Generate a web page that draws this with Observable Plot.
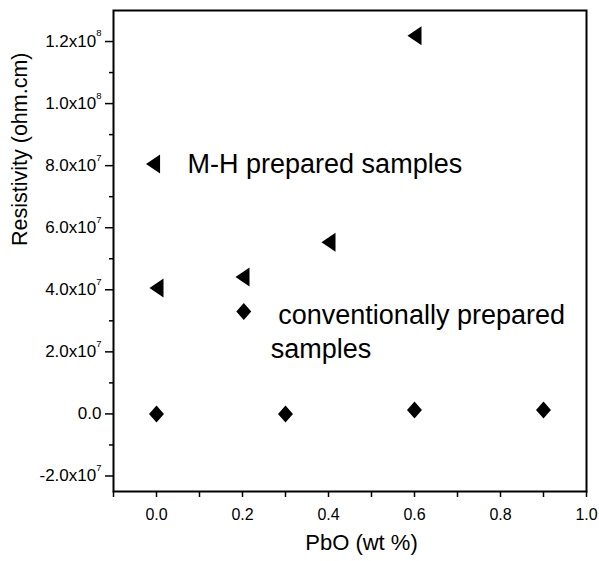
<!DOCTYPE html>
<html><head><meta charset="utf-8">
<script src="https://cdn.jsdelivr.net/npm/d3@7"></script>
<script src="https://cdn.jsdelivr.net/npm/@observablehq/plot@0.6"></script>
<style>
html,body{margin:0;padding:0;background:#fff;}
</style>
</head><body><div id="chart"></div>
<script>
// ---- data ----
const mhPbO = [0.0, 0.2, 0.4, 0.6];
const mhResistivity = [4.06e7, 4.41e7, 5.53e7, 1.219e8];
const convPbO = [0.0, 0.3, 0.6, 0.9];
const convResistivity = [0, 0, 1.3e6, 1.3e6];

const xTicks = [0, 0.2, 0.4, 0.6, 0.8, 1.0];
const xTickLabels = ["0.0", "0.2", "0.4", "0.6", "0.8", "1.0"];
const xMinorTicks = [-0.1, 0.1, 0.3, 0.5, 0.7, 0.9];
const yTicks = [-2e7, 0, 2e7, 4e7, 6e7, 8e7, 1e8, 1.2e8];
const yTickLabels = ["-2.0x10^7", "0.0", "2.0x10^7", "4.0x10^7", "6.0x10^7", "8.0x10^7", "1.0x10^8", "1.2x10^8"];
const yMinorTicks = [-1e7, 1e7, 3e7, 5e7, 7e7, 9e7, 1.1e8];

const legendLabels = ["M-H prepared samples", "\u00a0conventionally prepared\nsamples"];
const legendPbO = [-0.008, 0.203];
const legendResistivity = [8.05e7, 3.3e7];

const xLabel = "PbO (wt %)";
const yLabel = "Resistivity (ohm.cm)";

// ---- tables ----
const mh = mhPbO.map((x, i) => ({x, y: mhResistivity[i]}));
const conv = convPbO.map((x, i) => ({x, y: convResistivity[i]}));
const legend = legendLabels.map((text, i) => ({x: legendPbO[i], y: legendResistivity[i], text}));
const xLabelMap = new Map(xTicks.map((v, i) => [v, xTickLabels[i]]));
const yLabelMap = new Map(yTicks.map((v, i) => [v, yTickLabels[i]]));

// ---- custom symbols ----
const triLeft = {draw(ctx, size) {
  const r = Math.sqrt(size / Math.PI), hw = r * 0.74, hh = r;
  ctx.moveTo(-hw, 0); ctx.lineTo(hw, -hh); ctx.lineTo(hw, hh); ctx.closePath();
}};
const diamond = {draw(ctx, size) {
  const r = Math.sqrt(size / Math.PI), hw = r * 0.88, hh = r;
  ctx.moveTo(0, -hh); ctx.lineTo(hw, 0); ctx.lineTo(0, hh); ctx.lineTo(-hw, 0); ctx.closePath();
}};

const font = "'Liberation Sans', Arial, Helvetica, sans-serif";

const svg = Plot.plot({
  width: 599,
  height: 561,
  marginTop: 10,
  marginBottom: 70,
  marginLeft: 113,
  marginRight: 13,
  style: {fontFamily: font, fontSize: "16px", background: "white", color: "black"},
  x: {domain: [-0.1, 1.0]},
  y: {domain: [-2.5e7, 1.3e8]},
  marks: [
    Plot.axisX(xMinorTicks, {tickSize: 6, tickFormat: () => "", label: null, strokeWidth: 1.5}),
    Plot.axisX(xTicks, {tickSize: 6, tickPadding: 11, tickFormat: d => xLabelMap.get(d), label: null, strokeWidth: 1.5}),
    Plot.axisY(yMinorTicks, {tickSize: 4, tickFormat: () => "", label: null, strokeWidth: 1.5}),
    Plot.axisY(yTicks, {tickSize: 8, tickPadding: 4, tickFormat: d => yLabelMap.get(d), label: null, strokeWidth: 1.5}),
    Plot.frame({stroke: "black", strokeWidth: 2}),
    Plot.dot(mh, {x: "x", y: "y", symbol: triLeft, r: 9.5, fill: "black", stroke: "none"}),
    Plot.dot(conv, {x: "x", y: "y", symbol: diamond, r: 8.5, fill: "black", stroke: "none"}),
    Plot.dot([legend[0]], {x: "x", y: "y", symbol: triLeft, r: 9.5, fill: "black", stroke: "none"}),
    Plot.dot([legend[1]], {x: "x", y: "y", symbol: diamond, r: 8.5, fill: "black", stroke: "none"}),
    Plot.text([legend[0]], {x: "x", y: "y", text: "text", dx: 34.5, textAnchor: "start", fontSize: 27, fill: "black"}),
    Plot.text([legend[1]], {x: "x", y: "y", text: "text", dx: 27, dy: -11.5, textAnchor: "start", lineAnchor: "top", lineHeight: 1.26, fontSize: 27, fill: "black"}),
    Plot.text([xLabel], {frameAnchor: "bottom", text: d => d, dx: 11.5, dy: 58.7, fontSize: 22, fill: "black"}),
    Plot.text([yLabel], {frameAnchor: "left", text: d => d, rotate: -90, dx: -93.3, dy: -5, fontSize: 21.5, fill: "black"})
  ]
});

// y tick labels slightly larger, with superscript exponents
svg.querySelectorAll('[aria-label="y-axis tick label"]').forEach(g => g.setAttribute("font-size", "17"));
svg.querySelectorAll('[aria-label="y-axis tick label"] text').forEach(t => {
  const s = t.textContent, i = s.indexOf("^");
  if (i < 0) return;
  t.textContent = s.slice(0, i);
  const ts = document.createElementNS("http://www.w3.org/2000/svg", "tspan");
  ts.setAttribute("dy", "-10.5");
  ts.setAttribute("font-size", "9.5");
  ts.textContent = s.slice(i + 1);
  t.appendChild(ts);
});

document.getElementById("chart").appendChild(svg);
</script>
</body></html>
